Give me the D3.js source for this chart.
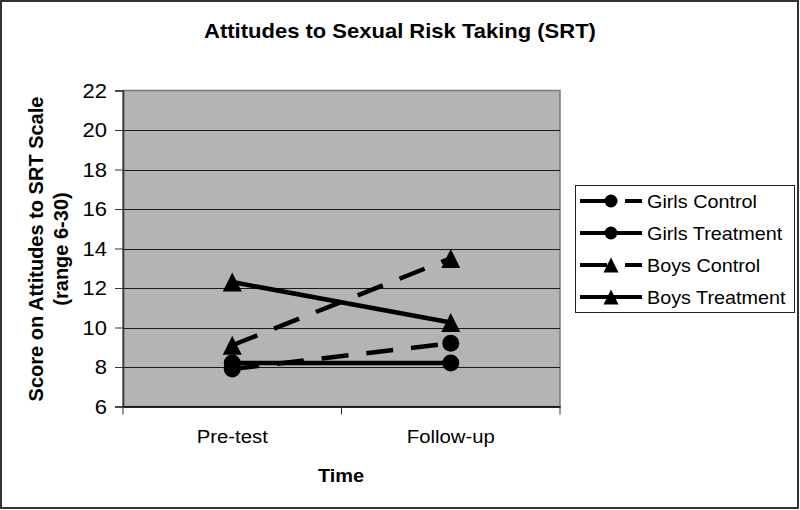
<!DOCTYPE html>
<html><head><meta charset="utf-8">
<script src="https://cdn.jsdelivr.net/npm/d3@7"></script>
<style>body{margin:0;background:#fff}svg{display:block;font-family:"Liberation Sans",Arial,sans-serif}</style>
</head><body>
<svg id="c" width="800" height="510"></svg>
<script>
const categories = ["Pre-test", "Follow-up"];
const seriesNames = ["Girls Control", "Girls Treatment", "Boys Control", "Boys Treatment"];
const girlsControl = [7.9, 9.2];
const girlsTreatment = [8.2, 8.2];
const boysControl = [9.1, 13.5];
const boysTreatment = [12.3, 10.25];
const yTicks = [6, 8, 10, 12, 14, 16, 18, 20, 22];

const series = [
  {name: seriesNames[0], values: girlsControl, marker: "circle", dashed: true},
  {name: seriesNames[1], values: girlsTreatment, marker: "circle", dashed: false},
  {name: seriesNames[2], values: boysControl, marker: "triangle", dashed: true},
  {name: seriesNames[3], values: boysTreatment, marker: "triangle", dashed: false}
];

const svg = d3.select("#c");
const SX = 1.1;
function stext(g, x, y, str, size, weight, anchor, sx) {
  return g.append("text")
    .attr("transform", `translate(${x},${y}) scale(${sx||SX},1)`)
    .attr("text-anchor", anchor || "start")
    .attr("font-size", size).attr("font-weight", weight || "normal")
    .attr("fill", "#000").text(str);
}

// outer border
svg.append("rect").attr("x", 1).attr("y", 1).attr("width", 797).attr("height", 507)
  .attr("fill", "#fff").attr("stroke", "#333").attr("stroke-width", 2);

const L = 123, R = 560, T = 90.5, B = 406.5;
const x = d3.scaleBand().domain(categories).range([L, R]).padding(0);
const y = d3.scaleLinear().domain([6, 22]).range([B, T]);
const cx = c => x(c) + x.bandwidth() / 2;

// plot area
svg.append("rect").attr("x", L).attr("y", T).attr("width", R - L).attr("height", B - T)
  .attr("fill", "#b4b4b4").attr("stroke", "#7a7a7a").attr("stroke-width", 1.5);

// gridlines
svg.append("g").selectAll("line").data(yTicks.filter(t => t > 6 && t < 22)).join("line")
  .attr("x1", L).attr("x2", R).attr("y1", d => Math.round(y(d)) + 0.5).attr("y2", d => Math.round(y(d)) + 0.5)
  .attr("stroke", "#1a1a1a").attr("stroke-width", 1);

// y axis
const yAxis = svg.append("g").attr("transform", `translate(${L},0)`)
  .call(d3.axisLeft(y).tickValues(yTicks).tickSize(8).tickPadding(0).tickFormat(() => ""));
yAxis.select(".domain").attr("stroke", "#333").attr("stroke-width", 1.5);
yAxis.selectAll(".tick line").attr("stroke", "#333");
yTicks.forEach(t => stext(svg, 107, y(t) + 7, String(t), 20, "normal", "end"));

// x axis
const xAxis = svg.append("g").attr("transform", `translate(0,${B})`)
  .call(d3.axisBottom(x).tickSize(0).tickFormat(() => ""));
xAxis.select(".domain").attr("stroke", "#222").attr("stroke-width", 2);
const xBounds = [L, x(categories[1]), R];
svg.append("g").selectAll("line").data(xBounds).join("line")
  .attr("x1", d => d).attr("x2", d => d).attr("y1", B).attr("y2", B + 8)
  .attr("stroke", "#333").attr("stroke-width", 1);
categories.forEach(c => stext(svg, cx(c), 443, c, 19, "normal", "middle", 1.07));

// titles
stext(svg, 400, 38, "Attitudes to Sexual Risk Taking (SRT)", 20, "bold", "middle");
stext(svg, 341, 482, "Time", 19, "bold", "middle", 1.05);
const yt = svg.append("g");
yt.append("text").attr("transform", "translate(43,249) rotate(-90)").attr("text-anchor", "middle")
  .attr("font-size", 20).attr("font-weight", "bold").text("Score on Attitudes to SRT Scale");
yt.append("text").attr("transform", "translate(68,249) rotate(-90)").attr("text-anchor", "middle")
  .attr("font-size", 20).attr("font-weight", "bold").text("(range 6-30)");

// markers
function markerPath(type, s) {
  if (type === "circle") return d3.symbol(d3.symbolCircle, Math.PI * (s / 2) * (s / 2))();
  return `M0,${-s / 2}L${s / 2},${s / 2}L${-s / 2},${s / 2}Z`;
}

const line = d3.line().x((d, i) => cx(categories[i])).y(d => y(d));
series.forEach(s => {
  const g = svg.append("g");
  g.append("path").attr("d", line(s.values)).attr("fill", "none").attr("stroke", "#000")
    .attr("stroke-width", 4.5).attr("stroke-dasharray", s.dashed ? "27,18" : null);
  g.selectAll("path.m").data(s.values).join("path").attr("class", "m")
    .attr("transform", (d, i) => `translate(${cx(categories[i])},${y(d)})`)
    .attr("d", markerPath(s.marker, s.marker === "circle" ? 17 : 19)).attr("fill", "#000");
});

// legend
const lg = svg.append("g");
lg.append("rect").attr("x", 575.5).attr("y", 185.5).attr("width", 219).attr("height", 127)
  .attr("fill", "#fff").attr("stroke", "#222").attr("stroke-width", 1);
series.forEach((s, i) => {
  const ly = 201 + i * 32;
  lg.append("line").attr("x1", 580).attr("x2", 642).attr("y1", ly).attr("y2", ly)
    .attr("stroke", "#000").attr("stroke-width", 4).attr("stroke-dasharray", s.dashed ? "27,18" : null);
  lg.append("path").attr("transform", `translate(611,${ly})`)
    .attr("d", markerPath(s.marker, s.marker === "circle" ? 13 : 15)).attr("fill", "#000");
  stext(lg, 647, ly + 6.5, s.name, 18, "normal", "start");
});
</script>
</body></html>
